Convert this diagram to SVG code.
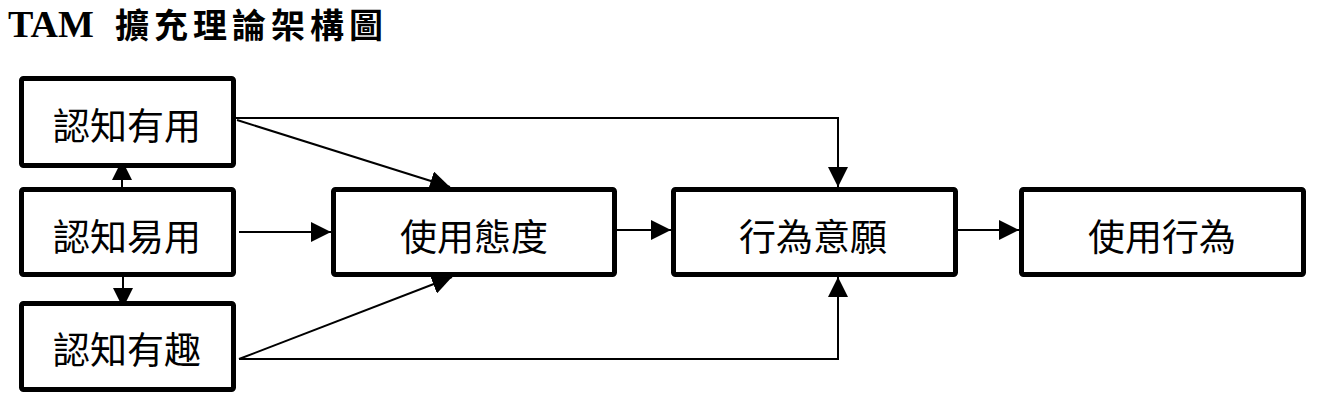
<svg xmlns="http://www.w3.org/2000/svg" width="1326" height="402" viewBox="0 0 1326 402">
<style>
.box{fill:#fff;stroke:#000;stroke-width:5}
.lbl{font-family:"Noto Sans CJK TC","Noto Sans CJK SC",sans-serif;font-size:37px;fill:#000;text-anchor:middle}
.conn{fill:none;stroke:#000;stroke-width:2}
</style>
<defs>
<marker id="ah" markerUnits="userSpaceOnUse" markerWidth="20" markerHeight="20" viewBox="0 0 18 18" refX="18" refY="9" orient="auto">
<path d="M0,0 L18,9 L0,18 Z" fill="#000"/>
</marker>
</defs>
<rect width="1326" height="402" fill="#fff"/>
<g id="title">
<text x="8" y="37" font-family="'Liberation Serif',serif" font-weight="bold" font-size="38" fill="#000">TAM</text>
<text x="115" y="38" font-family="'Noto Sans CJK TC','Noto Sans CJK SC',sans-serif" font-weight="bold" font-size="34" letter-spacing="5" fill="#000">擴充理論架構圖</text>
</g>
<g id="connectors">
<path class="conn" d="M236,118 H838 V187" marker-end="url(#ah)"/>
<path class="conn" d="M237,120 L450,187" marker-end="url(#ah)"/>
<path class="conn" d="M239,232 H331" marker-end="url(#ah)"/>
<path class="conn" d="M122,187 V160" marker-end="url(#ah)"/>
<path class="conn" d="M123,277 V308" marker-end="url(#ah)"/>
<path class="conn" d="M239,359 L452,277" marker-end="url(#ah)"/>
<path class="conn" d="M239,359 H838 V277" marker-end="url(#ah)"/>
<path class="conn" d="M617,230 H671" marker-end="url(#ah)"/>
<path class="conn" d="M958,230 H1019" marker-end="url(#ah)"/>
</g>
<g id="n1"><rect class="box" x="21.5" y="78.5" width="212" height="87" rx="2"/><text class="lbl" x="127" y="140">認知有用</text></g>
<g id="n2"><rect class="box" x="21.5" y="189.5" width="212" height="85" rx="2"/><text class="lbl" x="127" y="251">認知易用</text></g>
<g id="n3"><rect class="box" x="21.5" y="303.5" width="212" height="86" rx="2"/><text class="lbl" x="127" y="364">認知有趣</text></g>
<g id="n4"><rect class="box" x="333.5" y="189.5" width="281" height="85" rx="2"/><text class="lbl" x="474" y="251">使用態度</text></g>
<g id="n5"><rect class="box" x="673.5" y="189.5" width="282" height="85" rx="2"/><text class="lbl" x="813" y="251">行為意願</text></g>
<g id="n6"><rect class="box" x="1021.5" y="189.5" width="282" height="85" rx="2"/><text class="lbl" x="1162" y="251">使用行為</text></g>
</svg>
